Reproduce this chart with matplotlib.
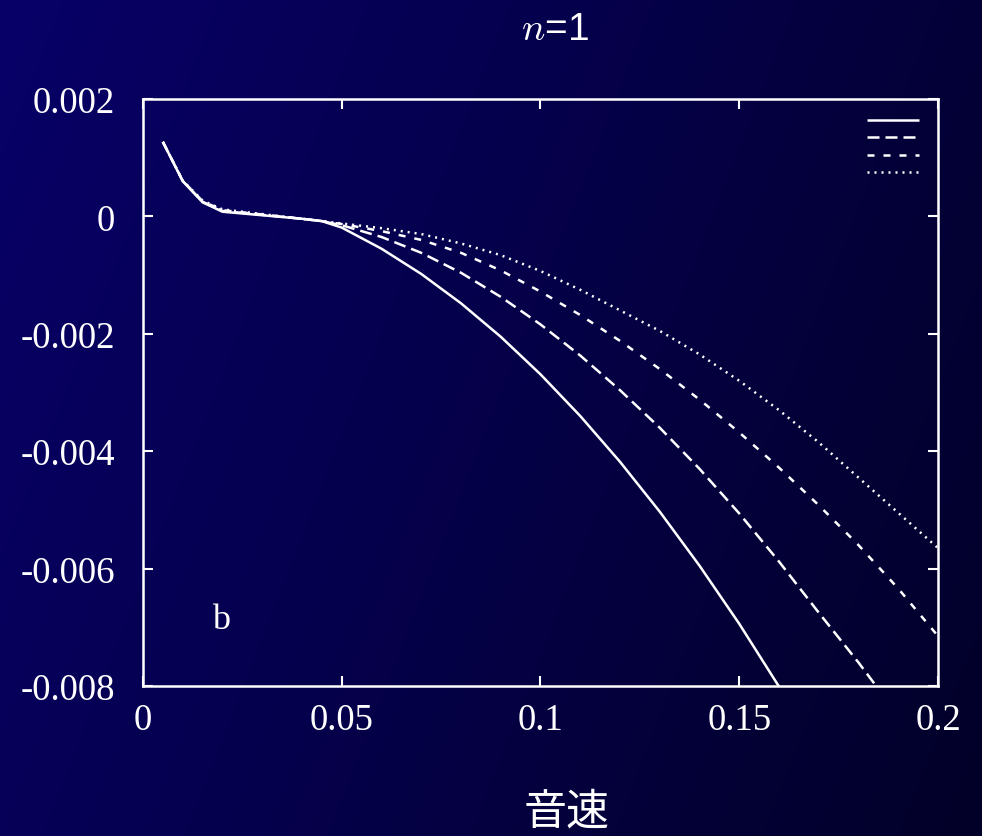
import matplotlib
matplotlib.use('Agg')
import matplotlib.pyplot as plt
import numpy as np

plt.rcParams['mathtext.fontset'] = 'cm'

# data
x_early = [0.005, 0.01, 0.015, 0.02, 0.03, 0.04, 0.045]
solid_early = [0.00127, 0.00060, 0.00024, 0.00008, 0.00002, -0.00004, -0.00008]
early_offset = [0.0, 0.00001, 0.00003, 0.00004, 0.00002, 0.0, 0.0]
x_solid = [0.05, 0.06, 0.07, 0.08, 0.09, 0.10, 0.11, 0.12, 0.13, 0.14, 0.15, 0.16, 0.165]
y_solid = [-0.00019, -0.00055, -0.00098, -0.00148, -0.00205, -0.00269, -0.0034,
           -0.00418, -0.00503, -0.00595, -0.00694, -0.00801, -0.0086]
x_dash = [0.05, 0.06, 0.07, 0.08, 0.09, 0.10, 0.11, 0.12, 0.13, 0.14, 0.15, 0.16,
          0.17, 0.18, 0.19]
y_dash = [-0.00015, -0.00035, -0.00062, -0.00096, -0.00137, -0.00184, -0.00237, -0.00296,
          -0.0036, -0.0043, -0.00506, -0.00588, -0.00675, -0.0076, -0.0085]
x_rest = [0.05, 0.06, 0.07, 0.08, 0.09, 0.10, 0.11, 0.12, 0.13, 0.14, 0.15, 0.16,
          0.17, 0.18, 0.19, 0.20]
y_short = [-0.00013, -0.00025, -0.0004, -0.00062, -0.00092, -0.00128, -0.00168, -0.00212,
           -0.0026, -0.00312, -0.00368, -0.00428, -0.00492, -0.0056, -0.00634, -0.00715]
y_dot = [-0.00012, -0.0002, -0.0003, -0.00046, -0.00066, -0.00093, -0.00125, -0.0016,
         -0.00195, -0.00235, -0.0028, -0.0033, -0.00385, -0.00445, -0.00505, -0.00565]

fig = plt.figure(figsize=(9.82, 8.37), dpi=100)

# background gradient
bg = fig.add_axes([0, 0, 1, 1], zorder=-10)
gx, gy = np.meshgrid(np.linspace(0, 1, 300), np.linspace(0, 1, 300))
t = np.clip(0.75 * gx + 0.25 * gy, 0, 1)
c0 = np.array([8, 0, 104]) / 255
c1 = np.array([2, 0, 40]) / 255
img = c0[None, None, :] + (c1 - c0)[None, None, :] * t[:, :, None]
bg.imshow(img, aspect='auto', extent=[0, 1, 0, 1], origin='upper')
bg.axis('off')

ax = fig.add_axes([0.1456, 0.1792, 0.8096, 0.7013])
ax.patch.set_alpha(0)

lw = 1.8
styles = [(0, ()), (0, (4.8, 2.4)), (0, (2.8, 3.6)), (0, (0.8, 2.0))]
for i, (xs, ys) in enumerate([(x_solid, y_solid), (x_dash, y_dash),
                               (x_rest, y_short), (x_rest, y_dot)]):
    ye = [v + o * i / 3 for v, o in zip(solid_early, early_offset)]
    ax.plot(x_early + xs, ye + ys, color='white', lw=lw, linestyle=styles[i],
            label=' ')

ax.set_xlim(0, 0.2)
ax.set_ylim(-0.008, 0.002)
ax.set_xticks([0, 0.05, 0.1, 0.15, 0.2])
ax.set_xticklabels(['0', '0.05', '0.1', '0.15', '0.2'])
ax.set_yticks([-0.008, -0.006, -0.004, -0.002, 0, 0.002])
ax.set_yticklabels(['-0.008', '-0.006', '-0.004', '-0.002', '0', '0.002'])
for s in ax.spines.values():
    s.set_color('white')
    s.set_linewidth(1.8)
ax.tick_params(direction='in', length=7, width=1.5, colors='white',
               top=True, right=True, labelsize=26.5)
ax.tick_params(axis='x', pad=12)
ax.tick_params(axis='y', pad=20)
for lab in ax.get_xticklabels() + ax.get_yticklabels():
    lab.set_fontfamily('Liberation Serif')

ax.text(0.0196, -0.00686, 'b', color='white', fontsize=26,
        family='Liberation Serif', ha='center', va='center')

leg = ax.legend(loc='upper right', frameon=False, handlelength=3.35,
                handletextpad=0.0, labelspacing=0.15, fontsize=11,
                borderaxespad=0.55)

fig.text(0.565, 0.964, r'$n$=1', color='white', fontsize=28,
         family='Liberation Sans', ha='center', va='center')
fig.text(0.577, 0.029, '音速', color='white', fontsize=31,
         family=['Noto Sans CJK JP', 'DejaVu Sans'], ha='center', va='center')

fig.savefig('out.png', dpi=100)
